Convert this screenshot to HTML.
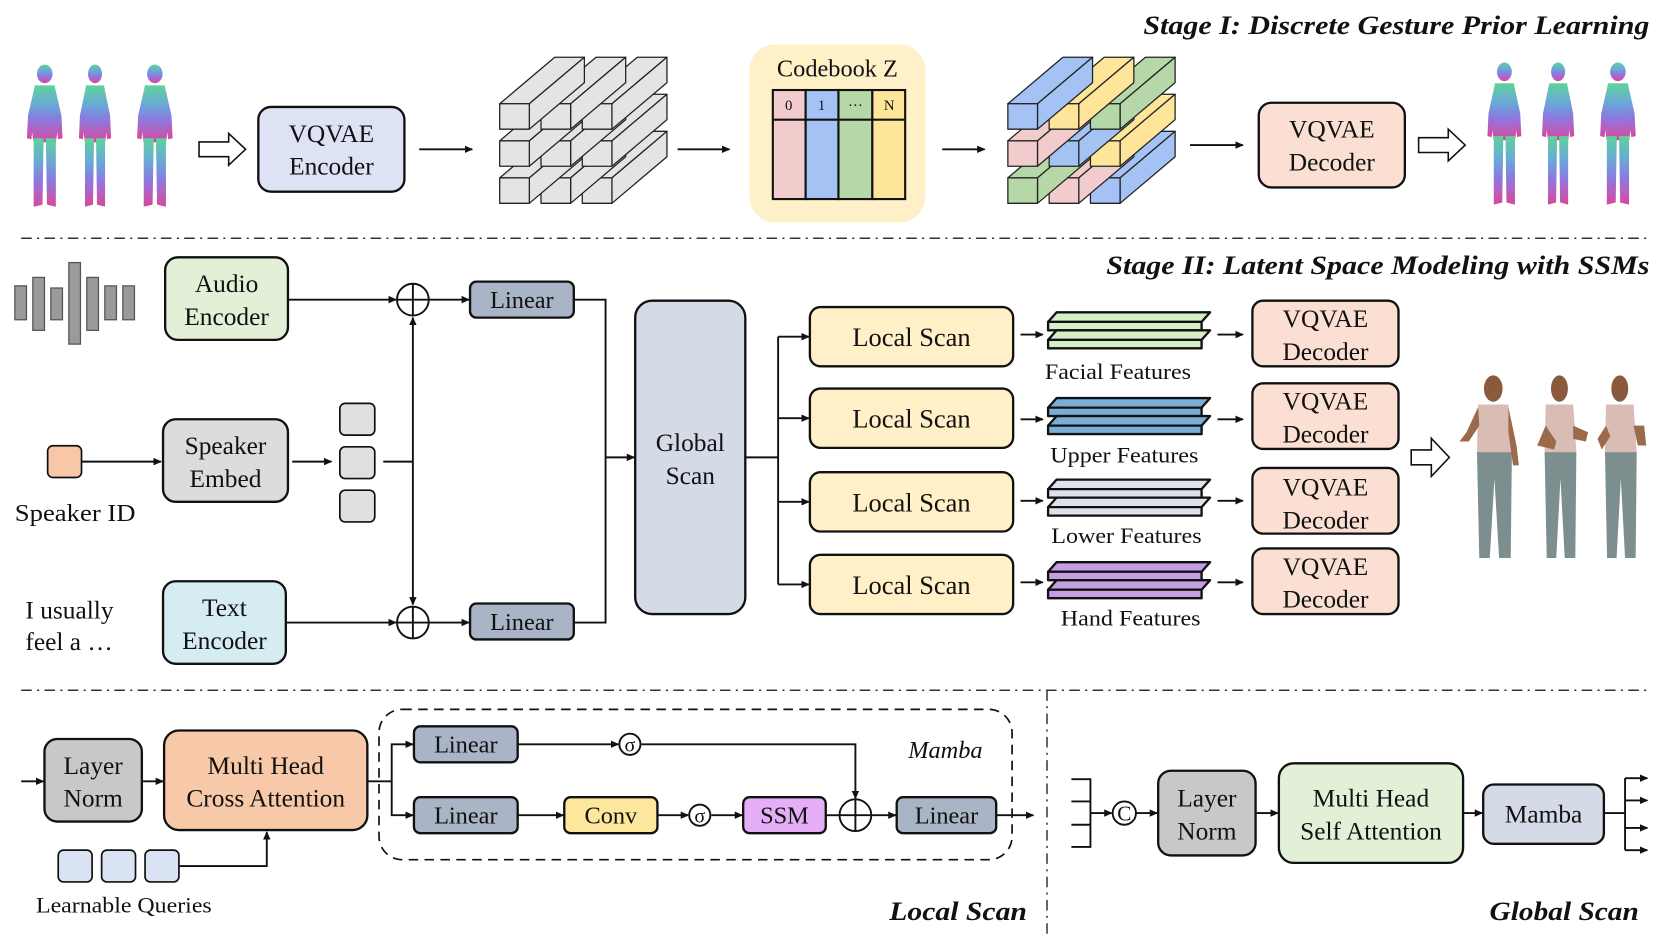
<!DOCTYPE html>
<html><head><meta charset="utf-8"><style>
html,body{margin:0;padding:0;background:#fff;}
svg{display:block;}
text{font-family:"Liberation Serif",serif;fill:#111;}
</style></head><body>
<svg width="1660" height="937" viewBox="0 0 1568 885" xmlns="http://www.w3.org/2000/svg">
<defs>
<marker id="ah" markerWidth="8" markerHeight="8" refX="7" refY="4" orient="auto" markerUnits="userSpaceOnUse"><path d="M0,0.5 L8,4 L0,7.5 Z" fill="#111"/></marker>
<linearGradient id="mesh" x1="0" y1="0" x2="0" y2="1">
<stop offset="0" stop-color="#5ed39a"/><stop offset="0.35" stop-color="#6aa8d8"/><stop offset="0.6" stop-color="#8a7be0"/><stop offset="0.85" stop-color="#c05ab8"/><stop offset="1" stop-color="#d4489a"/></linearGradient>
<g id="pbase"><polygon points="0,0 28,0 80,-44 52,-44"/><polygon points="28,0 80,-44 80,-20 28,24"/><rect x="0" y="0" width="28" height="24"/></g>
<g id="person">
<ellipse cx="25" cy="10" rx="7" ry="9"/>
<path d="M16,21 L34,21 L37,62 L35,76 L15,76 L13,62 Z"/>
<path d="M16,22 L10,50 L9,72 L13,73 L15,52 L18,34 Z"/>
<path d="M34,22 L40,50 L41,72 L37,73 L35,52 L32,34 Z"/>
<path d="M15,72 L24,72 L23,136 L15,138 Z"/>
<path d="M26,72 L35,72 L35,138 L27,136 Z"/>
</g>
</defs>

<text x="1558" y="32" text-anchor="end" font-size="25" font-style="italic" font-weight="bold" textLength="478" lengthAdjust="spacingAndGlyphs">Stage I: Discrete Gesture Prior Learning</text>
<text x="1558" y="259" text-anchor="end" font-size="25" font-style="italic" font-weight="bold" textLength="513" lengthAdjust="spacingAndGlyphs">Stage II: Latent Space Modeling with SSMs</text>

<g fill="url(#mesh)">
<use href="#person" transform="translate(16,60) scale(1.05,0.98)"/>
<use href="#person" transform="translate(66,60) scale(0.95,0.98)"/>
<use href="#person" transform="translate(120,60) scale(1.05,0.98)"/>
<use href="#person" transform="translate(1396,58) scale(1.0,0.98)"/>
<use href="#person" transform="translate(1448,58) scale(0.95,0.98)"/>
<use href="#person" transform="translate(1502,58) scale(1.05,0.98)"/>
</g>

<g fill="#fff" stroke="#111" stroke-width="1.5">
<polygon points="188,134 216,134 216,126 232,141 216,156 216,148 188,148"/>
<polygon points="1340,130 1368,130 1368,122 1384,137 1368,152 1368,144 1340,144"/>
<polygon points="1333,425 1352,425 1352,414 1369,432 1352,450 1352,439 1333,439"/>
</g>

<g stroke="#111" stroke-width="2.2">
<rect x="244" y="101" width="138" height="80" rx="12" fill="#dde3f5"/>
<rect x="1189" y="97" width="138" height="80" rx="12" fill="#fadfd2"/>
</g>
<text x="313" y="134" text-anchor="middle" font-size="24">VQVAE</text>
<text x="313" y="165" text-anchor="middle" font-size="24">Encoder</text>
<text x="1258" y="130" text-anchor="middle" font-size="24">VQVAE</text>
<text x="1258" y="161" text-anchor="middle" font-size="24">Decoder</text>

<g stroke="#111" stroke-width="1.8" marker-end="url(#ah)">
<line x1="396" y1="141" x2="446" y2="141"/>
<line x1="640" y1="141" x2="689" y2="141"/>
<line x1="890" y1="141" x2="930" y2="141"/>
<line x1="1124" y1="137" x2="1174" y2="137"/>
</g>

<g stroke="#222" stroke-width="1.2" stroke-linejoin="round">
<g fill="#e4e4e4">
<use href="#pbase" x="550" y="168"/><use href="#pbase" x="511" y="168"/><use href="#pbase" x="472" y="168"/>
<use href="#pbase" x="550" y="133"/><use href="#pbase" x="511" y="133"/><use href="#pbase" x="472" y="133"/>
<use href="#pbase" x="550" y="98"/><use href="#pbase" x="511" y="98"/><use href="#pbase" x="472" y="98"/>
</g>
<use href="#pbase" x="1030" y="168" fill="#a4c2f4"/><use href="#pbase" x="991" y="168" fill="#f2cccc"/><use href="#pbase" x="952" y="168" fill="#b6d7a8"/>
<use href="#pbase" x="1030" y="133" fill="#ffe599"/><use href="#pbase" x="991" y="133" fill="#a4c2f4"/><use href="#pbase" x="952" y="133" fill="#f2cccc"/>
<use href="#pbase" x="1030" y="98" fill="#b6d7a8"/><use href="#pbase" x="991" y="98" fill="#ffe599"/><use href="#pbase" x="952" y="98" fill="#a4c2f4"/>
</g>

<rect x="708" y="42" width="166" height="168" rx="24" fill="#fef0c7"/>
<text x="791" y="72" text-anchor="middle" font-size="23">Codebook Z</text>
<g stroke="#111" stroke-width="2">
<rect x="730" y="85" width="31" height="103" fill="#f2cccc"/>
<rect x="761" y="85" width="31" height="103" fill="#a4c2f4"/>
<rect x="792" y="85" width="32" height="103" fill="#b6d7a8"/>
<rect x="824" y="85" width="31" height="103" fill="#ffe599"/>
<line x1="730" y1="113" x2="855" y2="113"/>
</g>
<text x="745" y="104" text-anchor="middle" font-size="14">0</text>
<text x="776" y="104" text-anchor="middle" font-size="14">1</text>
<text x="808" y="104" text-anchor="middle" font-size="14">···</text>
<text x="840" y="104" text-anchor="middle" font-size="14">N</text>

<g stroke="#333" stroke-width="1.4" stroke-dasharray="10,5,2,5" fill="none">
<line x1="20" y1="225" x2="1555" y2="225"/>
<line x1="20" y1="652" x2="1555" y2="652"/>
<line x1="989" y1="652" x2="989" y2="882"/>
</g>

<g fill="#9a9a9a" stroke="#555" stroke-width="1.2">
<rect x="14" y="270" width="11" height="32"/>
<rect x="31" y="262" width="11" height="50"/>
<rect x="48" y="272" width="11" height="30"/>
<rect x="65" y="248" width="11" height="77"/>
<rect x="82" y="262" width="11" height="50"/>
<rect x="99" y="270" width="11" height="32"/>
<rect x="116" y="270" width="11" height="32"/>
</g>
<rect x="45" y="421" width="32" height="30" rx="5" fill="#f8c7a8" stroke="#111" stroke-width="1.6"/>
<text x="71" y="492" text-anchor="middle" font-size="23" textLength="114" lengthAdjust="spacingAndGlyphs">Speaker ID</text>
<text x="24" y="584" font-size="24">I usually</text>
<text x="24" y="614" font-size="24">feel a …</text>

<g stroke="#111" stroke-width="2.2">
<rect x="156" y="243" width="116" height="78" rx="12" fill="#e3f0d8"/>
<rect x="154" y="396" width="118" height="78" rx="12" fill="#dcdcdc"/>
<rect x="154" y="549" width="116" height="78" rx="12" fill="#d4ecf2"/>
<rect x="444" y="266" width="98" height="34" rx="6" fill="#a9b4c6"/>
<rect x="444" y="570" width="98" height="34" rx="6" fill="#a9b4c6"/>
<rect x="600" y="284" width="104" height="296" rx="16" fill="#d5dbe6"/>
</g>
<g stroke="#111" stroke-width="1.6" fill="#e0e0e0">
<rect x="321" y="381" width="33" height="30" rx="5"/>
<rect x="321" y="422" width="33" height="30" rx="5"/>
<rect x="321" y="463" width="33" height="30" rx="5"/>
</g>
<g font-size="24" text-anchor="middle">
<text x="214" y="276">Audio</text>
<text x="214" y="307">Encoder</text>
<text x="213" y="429">Speaker</text>
<text x="213" y="460">Embed</text>
<text x="212" y="582">Text</text>
<text x="212" y="613">Encoder</text>
<text x="493" y="291" font-size="23">Linear</text>
<text x="493" y="595" font-size="23">Linear</text>
<text x="652" y="426">Global</text>
<text x="652" y="457">Scan</text>
</g>

<g stroke="#111" stroke-width="1.8" fill="none">
<circle cx="390" cy="283" r="15"/><line x1="375" y1="283" x2="405" y2="283"/><line x1="390" y1="268" x2="390" y2="298"/>
<circle cx="390" cy="588" r="15"/><line x1="375" y1="588" x2="405" y2="588"/><line x1="390" y1="573" x2="390" y2="603"/>
<line x1="77" y1="436" x2="152" y2="436" marker-end="url(#ah)"/>
<line x1="276" y1="436" x2="313" y2="436" marker-end="url(#ah)"/>
<line x1="362" y1="436" x2="390" y2="436"/>
<line x1="390" y1="436" x2="390" y2="300" marker-end="url(#ah)"/>
<line x1="390" y1="436" x2="390" y2="571" marker-end="url(#ah)"/>
<line x1="272" y1="283" x2="374" y2="283" marker-end="url(#ah)"/>
<line x1="270" y1="588" x2="374" y2="588" marker-end="url(#ah)"/>
<line x1="405" y1="283" x2="443" y2="283" marker-end="url(#ah)"/>
<line x1="405" y1="588" x2="443" y2="588" marker-end="url(#ah)"/>
<polyline points="542,283 572,283 572,588 542,588"/>
<line x1="572" y1="432" x2="599" y2="432" marker-end="url(#ah)"/>
<line x1="704" y1="432" x2="735" y2="432"/>
<line x1="735" y1="318" x2="735" y2="552"/>
<line x1="735" y1="318" x2="764" y2="318" marker-end="url(#ah)"/>
<line x1="735" y1="395" x2="764" y2="395" marker-end="url(#ah)"/>
<line x1="735" y1="474" x2="764" y2="474" marker-end="url(#ah)"/>
<line x1="735" y1="552" x2="764" y2="552" marker-end="url(#ah)"/>
<line x1="964" y1="316" x2="985" y2="316" marker-end="url(#ah)"/>
<line x1="964" y1="396" x2="985" y2="396" marker-end="url(#ah)"/>
<line x1="964" y1="473" x2="985" y2="473" marker-end="url(#ah)"/>
<line x1="964" y1="550" x2="985" y2="550" marker-end="url(#ah)"/>
<line x1="1150" y1="316" x2="1174" y2="316" marker-end="url(#ah)"/>
<line x1="1150" y1="396" x2="1174" y2="396" marker-end="url(#ah)"/>
<line x1="1150" y1="473" x2="1174" y2="473" marker-end="url(#ah)"/>
<line x1="1150" y1="550" x2="1174" y2="550" marker-end="url(#ah)"/>
</g>

<g stroke="#111" stroke-width="2.2">
<rect x="765" y="290" width="192" height="56" rx="10" fill="#fff0c8"/>
<rect x="765" y="367" width="192" height="56" rx="10" fill="#fff0c8"/>
<rect x="765" y="446" width="192" height="56" rx="10" fill="#fff0c8"/>
<rect x="765" y="524" width="192" height="56" rx="10" fill="#fff0c8"/>
<rect x="1183" y="284" width="138" height="62" rx="10" fill="#fadfd2"/>
<rect x="1183" y="362" width="138" height="62" rx="10" fill="#fadfd2"/>
<rect x="1183" y="442" width="138" height="62" rx="10" fill="#fadfd2"/>
<rect x="1183" y="518" width="138" height="62" rx="10" fill="#fadfd2"/>
</g>
<g font-size="25" text-anchor="middle">
<text x="861" y="327">Local Scan</text><text x="861" y="404">Local Scan</text>
<text x="861" y="483">Local Scan</text><text x="861" y="561">Local Scan</text>
<text x="1252" y="309" font-size="24">VQVAE</text><text x="1252" y="340" font-size="24">Decoder</text>
<text x="1252" y="387" font-size="24">VQVAE</text><text x="1252" y="418" font-size="24">Decoder</text>
<text x="1252" y="468" font-size="24">VQVAE</text><text x="1252" y="499" font-size="24">Decoder</text>
<text x="1252" y="543" font-size="24">VQVAE</text><text x="1252" y="574" font-size="24">Decoder</text>
</g>

<g stroke="#111" stroke-width="2.2" stroke-linejoin="round">
<g fill="#d5efc8"><polygon points="998,295 1143,295 1135,304 990,304"/><rect x="990" y="304" width="145" height="8"/><polygon points="998,312 1143,312 1135,321 990,321"/><rect x="990" y="321" width="145" height="8"/></g>
<g fill="#7aaed4"><polygon points="998,376 1143,376 1135,385 990,385"/><rect x="990" y="385" width="145" height="8"/><polygon points="998,393 1143,393 1135,402 990,402"/><rect x="990" y="402" width="145" height="8"/></g>
<g fill="#dde2ec"><polygon points="998,453 1143,453 1135,462 990,462"/><rect x="990" y="462" width="145" height="8"/><polygon points="998,470 1143,470 1135,479 990,479"/><rect x="990" y="479" width="145" height="8"/></g>
<g fill="#c59ee2"><polygon points="998,531 1143,531 1135,540 990,540"/><rect x="990" y="540" width="145" height="8"/><polygon points="998,548 1143,548 1135,557 990,557"/><rect x="990" y="557" width="145" height="8"/></g>
</g>
<g font-size="21" text-anchor="middle">
<text x="1056" y="358" textLength="138" lengthAdjust="spacingAndGlyphs">Facial Features</text>
<text x="1062" y="437" textLength="140" lengthAdjust="spacingAndGlyphs">Upper Features</text>
<text x="1064" y="513" textLength="142" lengthAdjust="spacingAndGlyphs">Lower Features</text>
<text x="1068" y="591" textLength="132" lengthAdjust="spacingAndGlyphs">Hand Features</text>
</g>

<g>
<g transform="translate(1383,352) scale(1.1,1.25)">
<ellipse cx="25" cy="12" rx="8" ry="10" fill="#8a5a3c"/>
<path d="M12,24 L38,24 L41,60 L11,60 Z" fill="#d9bcb3"/>
<path d="M11,60 L41,60 L40,140 L30,140 L26,80 L22,140 L13,140 Z" fill="#7d8e8e"/>
<path d="M12,26 L2,45 L-4,52 L4,52 L13,40 Z" fill="#9a6a4a"/>
<path d="M38,26 L45,55 L47,70 L42,70 L38,45 Z" fill="#9a6a4a"/>
</g>
<g transform="translate(1448,352) scale(1.0,1.25)">
<ellipse cx="25" cy="12" rx="8" ry="10" fill="#8a5a3c"/>
<path d="M12,24 L38,24 L41,60 L11,60 Z" fill="#d9bcb3"/>
<path d="M11,60 L41,60 L40,140 L30,140 L26,80 L22,140 L13,140 Z" fill="#7d8e8e"/>
<path d="M12,40 L4,55 L20,58 L22,52 Z" fill="#9a6a4a"/>
<path d="M38,40 L52,45 L50,52 L38,50 Z" fill="#9a6a4a"/>
</g>
<g transform="translate(1505,352) scale(1.0,1.25)">
<ellipse cx="25" cy="12" rx="8" ry="10" fill="#8a5a3c"/>
<path d="M12,24 L38,24 L41,60 L11,60 Z" fill="#d9bcb3"/>
<path d="M11,60 L41,60 L40,140 L30,140 L26,80 L22,140 L13,140 Z" fill="#7d8e8e"/>
<path d="M12,40 L4,50 L8,58 L16,48 Z" fill="#9a6a4a"/>
<path d="M38,40 L48,40 L50,55 L42,55 Z" fill="#9a6a4a"/>
</g>
</g>

<rect x="358" y="670" width="598" height="142" rx="22" fill="none" stroke="#111" stroke-width="1.6" stroke-dasharray="9,6"/>
<g stroke="#111" stroke-width="2.2">
<rect x="42" y="698" width="92" height="78" rx="12" fill="#c8c8c8"/>
<rect x="155" y="690" width="192" height="94" rx="14" fill="#f8c9a8"/>
<rect x="391" y="686" width="98" height="34" rx="6" fill="#a9b4c6"/>
<rect x="391" y="753" width="98" height="34" rx="6" fill="#a9b4c6"/>
<rect x="533" y="753" width="88" height="34" rx="6" fill="#fde79c"/>
<rect x="702" y="753" width="78" height="34" rx="6" fill="#e6aef7"/>
<rect x="847" y="753" width="94" height="34" rx="6" fill="#a9b4c6"/>
</g>
<g stroke="#111" stroke-width="1.6" fill="#dae3f3">
<rect x="55" y="803" width="32" height="30" rx="5"/>
<rect x="96" y="803" width="32" height="30" rx="5"/>
<rect x="137" y="803" width="32" height="30" rx="5"/>
</g>
<g font-size="24" text-anchor="middle">
<text x="88" y="731">Layer</text><text x="88" y="762">Norm</text>
<text x="251" y="731">Multi Head</text><text x="251" y="762">Cross Attention</text>
<text x="440" y="711" font-size="23">Linear</text>
<text x="440" y="778" font-size="23">Linear</text>
<text x="577" y="778" font-size="23">Conv</text>
<text x="741" y="778" font-size="23">SSM</text>
<text x="894" y="778" font-size="23">Linear</text>
<text x="893" y="716" font-size="23" font-style="italic">Mamba</text>
</g>
<text x="117" y="862" text-anchor="middle" font-size="21" textLength="166" lengthAdjust="spacingAndGlyphs">Learnable Queries</text>
<text x="970" y="869" text-anchor="end" font-size="25" font-style="italic" font-weight="bold" textLength="130" lengthAdjust="spacingAndGlyphs">Local Scan</text>
<g stroke="#111" stroke-width="1.8" fill="none">
<line x1="20" y1="738" x2="41" y2="738" marker-end="url(#ah)"/>
<line x1="134" y1="738" x2="154" y2="738" marker-end="url(#ah)"/>
<polyline points="169,818 252,818 252,786" marker-end="url(#ah)"/>
<line x1="347" y1="738" x2="370" y2="738"/>
<polyline points="370,738 370,703 390,703" marker-end="url(#ah)"/>
<polyline points="370,738 370,770 390,770" marker-end="url(#ah)"/>
<line x1="489" y1="703" x2="584" y2="703" marker-end="url(#ah)"/>
<polyline points="606,703 808,703 808,754" marker-end="url(#ah)"/>
<line x1="489" y1="770" x2="532" y2="770" marker-end="url(#ah)"/>
<line x1="621" y1="770" x2="650" y2="770" marker-end="url(#ah)"/>
<line x1="672" y1="770" x2="701" y2="770" marker-end="url(#ah)"/>
<line x1="780" y1="770" x2="793" y2="770"/>
<line x1="823" y1="770" x2="846" y2="770" marker-end="url(#ah)"/>
<line x1="941" y1="770" x2="976" y2="770" marker-end="url(#ah)"/>
<circle cx="595" cy="703" r="10"/><circle cx="661" cy="770" r="10"/>
<circle cx="808" cy="770" r="15"/><line x1="793" y1="770" x2="823" y2="770"/><line x1="808" y1="755" x2="808" y2="785"/>
</g>
<text x="595" y="710" text-anchor="middle" font-size="19">σ</text>
<text x="661" y="777" text-anchor="middle" font-size="19">σ</text>

<g stroke="#111" stroke-width="2.2">
<rect x="1094" y="728" width="92" height="80" rx="12" fill="#c8c8c8"/>
<rect x="1208" y="721" width="174" height="94" rx="14" fill="#e3f0d8"/>
<rect x="1401" y="741" width="114" height="56" rx="10" fill="#d5dbe6"/>
</g>
<g font-size="24" text-anchor="middle">
<text x="1140" y="762">Layer</text><text x="1140" y="793">Norm</text>
<text x="1295" y="762">Multi Head</text><text x="1295" y="793">Self Attention</text>
<text x="1458" y="777">Mamba</text>
</g>
<text x="1548" y="869" text-anchor="end" font-size="25" font-style="italic" font-weight="bold" textLength="141" lengthAdjust="spacingAndGlyphs">Global Scan</text>
<g stroke="#111" stroke-width="1.8" fill="none">
<polyline points="1012,736 1030,736 1030,800 1012,800"/>
<line x1="1012" y1="757" x2="1030" y2="757"/>
<line x1="1012" y1="779" x2="1030" y2="779"/>
<line x1="1030" y1="768" x2="1050" y2="768" marker-end="url(#ah)"/>
<circle cx="1062" cy="768" r="11"/>
<line x1="1073" y1="768" x2="1093" y2="768" marker-end="url(#ah)"/>
<line x1="1186" y1="768" x2="1207" y2="768" marker-end="url(#ah)"/>
<line x1="1382" y1="768" x2="1400" y2="768" marker-end="url(#ah)"/>
<line x1="1515" y1="768" x2="1535" y2="768"/>
<line x1="1535" y1="735" x2="1535" y2="803"/>
<line x1="1535" y1="735" x2="1556" y2="735" marker-end="url(#ah)"/>
<line x1="1535" y1="756" x2="1556" y2="756" marker-end="url(#ah)"/>
<line x1="1535" y1="782" x2="1556" y2="782" marker-end="url(#ah)"/>
<line x1="1535" y1="803" x2="1556" y2="803" marker-end="url(#ah)"/>
</g>
<text x="1062" y="775" text-anchor="middle" font-size="20">C</text>
</svg>
</body></html>
